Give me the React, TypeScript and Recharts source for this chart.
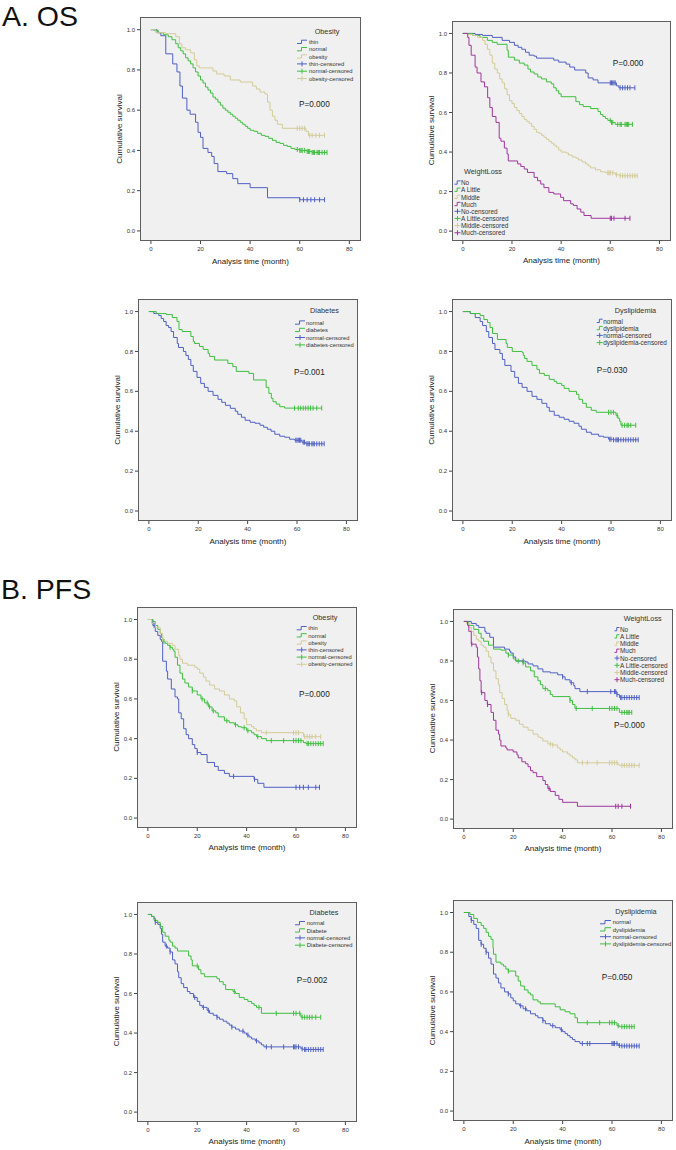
import React from 'react';
import { ComposedChart, Line, Scatter, XAxis, YAxis } from 'recharts';

type Step = [number, number];

const BLUE = '#4f60c4';
const GREEN = '#3fbf3f';
const TAN = '#d3cb98';
const PURPLE = '#9e369e';

const X_TICKS = [0, 20, 40, 60, 80];
const Y_TICKS = [0, 0.2, 0.4, 0.6, 0.8, 1.0];
const X_DOMAIN: [number, number] = [-4.4, 84.7];
const Y_DOMAIN: [number, number] = [-0.05, 1.063];

// ---------- A. OS : Obesity ----------
const osObThin: Step[] = [[0,1],[2.5,0.985],[4,0.97],[6,0.88],[8.8,0.83],[10.5,0.79],[11.7,0.72],[12.7,0.66],[14.5,0.6],[15.8,0.58],[18,0.54],[19,0.49],[20,0.465],[21,0.41],[23,0.39],[24.5,0.37],[25.5,0.335],[27,0.295],[30.5,0.285],[33,0.26],[35,0.235],[40,0.215],[47,0.165],[60,0.155]];
const osObThinCens = [60,61.5,63,64.5,66,68,70];
const osObNormal: Step[] = [[0,1],[1.5,0.995],[3,0.985],[5,0.975],[7,0.965],[8.5,0.95],[10,0.93],[11,0.91],[12,0.895],[13,0.88],[14,0.86],[15,0.845],[16,0.83],[17,0.81],[18,0.79],[19,0.77],[20,0.75],[21,0.735],[22,0.715],[23,0.7],[24,0.685],[25,0.665],[26,0.655],[27,0.64],[28,0.625],[29,0.61],[30,0.6],[31,0.59],[32,0.58],[33,0.57],[34,0.56],[35,0.55],[36,0.54],[37,0.53],[38,0.52],[39,0.51],[40,0.5],[41.5,0.495],[43,0.485],[44.5,0.475],[46,0.47],[47.5,0.46],[49,0.45],[50.5,0.44],[52,0.435],[53.5,0.425],[55,0.42],[56.5,0.41],[58,0.405],[60,0.4],[63,0.395],[65,0.39]];
const osObNormalCens = [59,60,60.5,61,62,63,63.5,64,65,65.5,66,67,67.5,68,69,70,71];
const osObObese: Step[] = [[0,1],[2,0.985],[6,0.98],[10,0.965],[11.5,0.93],[12.5,0.91],[14,0.9],[16,0.885],[17.5,0.85],[18.5,0.82],[19.5,0.81],[25,0.795],[26.5,0.78],[29.5,0.77],[32,0.75],[36,0.74],[41,0.72],[42.5,0.705],[44,0.69],[46,0.68],[47,0.64],[48,0.6],[49,0.57],[50,0.55],[51,0.53],[53,0.51],[62.5,0.495],[63.5,0.475]];
const osObObeseCens = [59,60,61,62,64,65,66.5,68,70];

// ---------- A. OS : Weight loss ----------
const osWlNo: Step[] = [[0,1],[5,0.995],[8,0.99],[12,0.98],[16,0.965],[19,0.955],[21,0.94],[22.5,0.93],[24,0.92],[25.5,0.905],[27,0.89],[29,0.885],[30,0.875],[37,0.865],[39,0.855],[42,0.845],[43.5,0.83],[45.5,0.815],[50,0.8],[51,0.775],[53,0.765],[55,0.75],[62.5,0.735],[63.5,0.725]];
const osWlNoCens = [60,60.5,61,61.5,62,64,65,66,67,68,70];
const osWlLittle: Step[] = [[0,1],[4,0.99],[7,0.98],[10,0.965],[12,0.955],[14,0.945],[18,0.915],[18.5,0.88],[21,0.865],[23,0.85],[25,0.84],[26.5,0.82],[27.5,0.805],[29,0.795],[30.5,0.78],[32,0.77],[34,0.755],[36,0.745],[37,0.725],[38,0.71],[39,0.695],[40,0.68],[46,0.655],[47.5,0.64],[49,0.63],[52,0.62],[55,0.605],[56,0.59],[57,0.58],[58,0.57],[59,0.56],[60.5,0.55],[62,0.54]];
const osWlLittleCens = [60,60.5,61,63,64,64.5,66,66.5,67,67.5,69];
const osWlMiddle: Step[] = [[0,1],[2,0.995],[4,0.99],[6,0.98],[8,0.965],[9,0.945],[10,0.92],[11,0.89],[12,0.85],[13,0.82],[14,0.8],[15,0.77],[16,0.75],[17,0.72],[18,0.69],[19,0.66],[20,0.645],[21,0.625],[22,0.61],[23,0.595],[24,0.58],[25,0.565],[26,0.555],[27,0.545],[28,0.53],[29,0.515],[30,0.5],[31,0.495],[32,0.485],[33,0.475],[34,0.465],[35,0.455],[36,0.445],[37,0.435],[38,0.425],[39,0.41],[40,0.4],[42,0.395],[43,0.385],[44.5,0.375],[46,0.37],[47,0.36],[48.5,0.35],[50,0.34],[51,0.33],[52,0.32],[54,0.31],[56,0.3],[58,0.295],[62,0.285],[64,0.28]];
const osWlMiddleCens = [59,59.5,60,61,62.5,64,65,66,67,68,69,70,71];
const osWlMuch: Step[] = [[0,1],[2,0.98],[2.5,0.94],[3.4,0.89],[5,0.83],[5.8,0.8],[7.4,0.755],[8.8,0.73],[10.1,0.675],[11,0.625],[12,0.58],[13.5,0.55],[14.8,0.47],[15.5,0.455],[16.9,0.42],[18,0.39],[18.5,0.355],[22.3,0.34],[23.6,0.327],[25,0.314],[26.3,0.297],[29,0.272],[30.4,0.255],[31.7,0.238],[33,0.22],[35,0.196],[37,0.188],[39.8,0.171],[41,0.154],[43.9,0.138],[45,0.13],[46.5,0.112],[48,0.096],[49.3,0.079],[52.2,0.065]];
const osWlMuchCens = [60,60.5,61.5,66,68];

// ---------- A. OS : Diabetes ----------
const osDmNormal: Step[] = [[0,1],[2,0.99],[4,0.98],[5,0.965],[6,0.95],[7,0.93],[8,0.92],[9,0.9],[10,0.87],[11.5,0.84],[12,0.82],[14,0.8],[15,0.78],[16,0.76],[17,0.73],[18,0.7],[19.5,0.67],[21,0.64],[22.5,0.62],[24,0.6],[26,0.58],[28,0.56],[29.5,0.545],[31,0.53],[33,0.515],[35,0.5],[36,0.485],[37.5,0.47],[39,0.455],[41,0.445],[43,0.44],[45,0.43],[46.5,0.42],[48,0.41],[49.5,0.4],[51,0.385],[53,0.375],[55,0.37],[57,0.36],[59,0.355],[62,0.345],[63.5,0.337]];
const osDmNormalCens = [59.5,60,60.5,61,61.5,62.5,63,64,64.5,65,66,66.5,67,68,69,70,71];
const osDmDiab: Step[] = [[0,1],[3,0.99],[7,0.985],[9.5,0.97],[11.4,0.95],[12.2,0.91],[13.5,0.9],[17,0.875],[18,0.85],[18.5,0.84],[20.5,0.825],[22,0.81],[24,0.79],[24.6,0.775],[26.6,0.757],[32,0.74],[34,0.724],[35.4,0.7],[40.5,0.69],[42.4,0.657],[47.5,0.62],[48.6,0.59],[49.6,0.565],[50.3,0.548],[51.6,0.536],[53,0.523],[55,0.516]];
const osDmDiabCens = [59,60.5,61.5,62.5,63.5,64.5,65.5,66.5,68,70];

// ---------- A. OS : Dyslipidemia ----------
const osDlNormal: Step[] = [[0,1],[3,0.99],[5,0.97],[7,0.95],[8,0.93],[9.5,0.9],[10.5,0.87],[12,0.84],[13,0.81],[15,0.79],[16,0.76],[17,0.73],[19.5,0.7],[21,0.67],[22.5,0.64],[24,0.62],[26,0.6],[28,0.575],[30,0.56],[32,0.54],[34,0.52],[35,0.5],[37,0.48],[39,0.47],[41,0.46],[43,0.45],[45,0.44],[47,0.425],[48,0.41],[50,0.395],[52,0.385],[55,0.375],[57,0.37],[59,0.36],[61,0.357]];
const osDlNormalCens = [59.5,60,61,62,62.5,63,64,65,66,67,68,69,70,71];
const osDlDys: Step[] = [[0,1],[3,0.99],[7,0.98],[8.5,0.96],[10,0.945],[11,0.92],[12,0.89],[14,0.86],[17.5,0.84],[18,0.82],[20,0.8],[24,0.795],[24.5,0.78],[25,0.765],[26,0.75],[28,0.73],[30,0.71],[31,0.69],[33,0.68],[35,0.66],[37,0.65],[38,0.64],[40,0.63],[41,0.615],[43,0.6],[46,0.585],[47,0.56],[48.5,0.54],[50,0.52],[52,0.505],[54,0.495],[62,0.48],[62.8,0.465],[63.5,0.45],[64,0.43]];
const osDlDysCens = [59,60,61,62.5,64.5,65.5,66.5,67,68,70];

// ---------- B. PFS : Obesity ----------
const pfsObThin: Step[] = [[0,1],[2,0.97],[3,0.94],[4,0.92],[5,0.9],[5.5,0.89],[6,0.79],[7.5,0.74],[8,0.7],[9.5,0.65],[11,0.61],[12,0.6],[12.5,0.53],[13.5,0.5],[14.5,0.45],[15.5,0.42],[16.5,0.4],[18,0.37],[19,0.35],[20,0.33],[21.5,0.32],[24,0.28],[27,0.26],[28.5,0.24],[31,0.225],[33,0.21],[43,0.195],[44.5,0.175],[47,0.155]];
const pfsObThinCens = [2.5,20,34.7,43.2,60,61.5,63,65,68,69.5];
const pfsObNormal: Step[] = [[0,1],[2,0.99],[3,0.97],[4,0.95],[5,0.93],[5.5,0.91],[6,0.89],[7,0.88],[8,0.87],[9,0.86],[10,0.85],[10.5,0.84],[11,0.81],[12,0.77],[13,0.73],[14,0.7],[15,0.68],[16.5,0.66],[18,0.64],[20,0.62],[21.5,0.6],[23,0.58],[24.5,0.56],[26,0.54],[27.5,0.53],[28.5,0.51],[31,0.49],[33,0.48],[35,0.47],[36.5,0.46],[38,0.455],[40,0.44],[42,0.43],[43,0.42],[44,0.41],[46,0.4],[48,0.39],[63,0.38],[64,0.375]];
const pfsObNormalCens = [6.5,9,18,22,24,25,26.5,32,35.5,39,40.5,44.5,50,55,59,60,61,62,64.5,65,66,67,68,69,70,71];
const pfsObObese: Step[] = [[0,1],[1.5,0.98],[3,0.96],[5,0.93],[6,0.89],[8,0.88],[10,0.87],[11,0.85],[12.5,0.82],[13,0.8],[14,0.78],[16,0.77],[19,0.76],[20,0.75],[21,0.73],[22.5,0.71],[23.5,0.69],[25,0.67],[27,0.65],[29,0.64],[31,0.62],[33,0.6],[35,0.59],[36,0.56],[37.5,0.53],[39,0.5],[40,0.47],[42,0.46],[43,0.45],[44,0.44],[46,0.43],[63,0.41]];
const pfsObObeseCens = [48,59,60,61,63.5,64.5,65.5,66.5,68,70];

// ---------- B. PFS : Weight loss ----------
const pfsWlNo: Step[] = [[0,1],[3,0.99],[5,0.98],[6,0.97],[8.5,0.95],[9,0.94],[10.5,0.92],[12,0.87],[16.5,0.86],[18.5,0.85],[19,0.84],[20,0.82],[21,0.8],[25,0.795],[26,0.785],[28,0.775],[30,0.76],[32,0.745],[35,0.74],[38,0.73],[40,0.72],[41,0.705],[43,0.69],[44.5,0.675],[45,0.66],[47,0.645],[62,0.63],[63,0.615]];
const pfsWlNoCens = [24,40,43.5,50,59.5,61,61.5,62,63.5,64,65,66,67,68,69,70,71];
const pfsWlLittle: Step[] = [[0,1],[2,0.98],[4,0.96],[6,0.94],[7,0.915],[8,0.9],[10,0.88],[12,0.86],[15,0.855],[17,0.84],[18,0.83],[20,0.81],[21,0.8],[24,0.79],[25,0.77],[27,0.75],[28.5,0.72],[30,0.7],[31,0.68],[32,0.66],[34,0.65],[35,0.63],[36,0.62],[43,0.6],[44,0.58],[45,0.56],[63,0.54]];
const pfsWlLittleCens = [18,22,24,33,43,45.5,52,59,60,61,62,64,65,66,66.5,67,68];
const pfsWlMiddle: Step[] = [[0,1],[1,0.99],[2,0.97],[3,0.95],[4,0.93],[5,0.91],[6,0.9],[7,0.88],[8,0.87],[9,0.85],[10,0.82],[11,0.79],[12,0.75],[13,0.71],[14,0.68],[14.5,0.64],[15.5,0.61],[16.5,0.58],[17.5,0.55],[18,0.53],[19,0.51],[21,0.5],[22.5,0.48],[24,0.465],[26,0.45],[28,0.43],[30,0.415],[31,0.41],[32,0.395],[34,0.38],[36,0.375],[38,0.36],[39,0.35],[40,0.34],[42,0.33],[43,0.32],[44,0.31],[45,0.3],[46,0.285],[62.5,0.275],[63,0.272]];
const pfsWlMiddleCens = [18,35,36,48,50,54,59,60,61,62,64,65,66,67,68,69,71];
const pfsWlMuch: Step[] = [[0,1],[1.5,0.98],[2,0.95],[3,0.885],[5,0.87],[5.5,0.82],[6,0.76],[6.5,0.7],[7,0.64],[8.5,0.6],[9.5,0.58],[11,0.54],[12,0.5],[13,0.45],[14,0.43],[14.5,0.4],[15,0.37],[17,0.36],[17.5,0.35],[20,0.34],[21.5,0.325],[22,0.31],[23.5,0.29],[25,0.28],[26,0.265],[27,0.245],[28,0.235],[29.5,0.215],[32,0.195],[33,0.175],[34,0.155],[35,0.14],[37,0.12],[38.5,0.1],[40,0.085],[46,0.065]];
const pfsWlMuchCens = [3.2,7.2,9.6,34.5,61.5,62.5,64,67.5];

// ---------- B. PFS : Diabetes ----------
const pfsDmNormal: Step[] = [[0,1],[1.5,0.99],[2.5,0.98],[3,0.96],[4,0.95],[5,0.93],[5.5,0.9],[6,0.86],[7,0.84],[8,0.83],[9,0.81],[10,0.77],[11,0.75],[12,0.71],[12.5,0.68],[13.5,0.65],[14.5,0.63],[16,0.61],[17,0.6],[18.5,0.58],[20,0.56],[21,0.54],[22,0.53],[24,0.515],[25,0.5],[26.5,0.49],[28,0.48],[29,0.47],[30.5,0.46],[32,0.45],[33,0.44],[34,0.43],[35.5,0.42],[37,0.41],[39,0.4],[40,0.39],[41,0.38],[42,0.37],[43.5,0.36],[45,0.35],[46,0.34],[47,0.33],[62,0.32],[63,0.317]];
const pfsDmNormalCens = [3,7.5,9,19,22.5,24.5,28,34,38.5,40.5,44,48,50,55,59,59.5,60,61,62.5,63.5,64,65,66,67,68,69,70,71];
const pfsDmDiab: Step[] = [[0,1],[1.5,0.99],[2.5,0.97],[4,0.96],[5,0.94],[6,0.91],[7,0.89],[8.5,0.87],[9,0.86],[10,0.84],[11,0.83],[12,0.815],[16.5,0.79],[17.5,0.77],[18,0.74],[20.5,0.72],[21.5,0.7],[23,0.685],[28,0.675],[29,0.66],[30.5,0.645],[31.5,0.62],[34.5,0.61],[35.5,0.6],[37,0.58],[39,0.57],[40.5,0.56],[42,0.55],[43,0.54],[44,0.53],[46,0.5],[62,0.48]];
const pfsDmDiabCens = [20,35,45,52,59,60,61.5,62.5,63.5,64.5,65.5,66.5,68,70];

// ---------- B. PFS : Dyslipidemia ----------
const pfsDlNormal: Step[] = [[0,1],[2,0.98],[3,0.96],[4,0.94],[5,0.92],[6,0.86],[7,0.84],[8,0.82],[9,0.8],[10,0.77],[11,0.74],[12,0.69],[13,0.67],[14,0.645],[15,0.62],[16.5,0.6],[18,0.59],[19,0.57],[20,0.555],[21,0.54],[22.5,0.53],[24,0.515],[25.5,0.505],[27,0.49],[29,0.48],[30,0.47],[32,0.455],[33,0.44],[35,0.43],[37,0.42],[39,0.41],[40,0.4],[41,0.39],[42,0.38],[43,0.37],[44,0.36],[45,0.35],[47,0.34],[62.5,0.33],[63.5,0.328]];
const pfsDlNormalCens = [3,7,9,18,23,25,32,36,39.5,48,50,51,60,60.5,61,62,63,64,65,66,67,68,69,70,71];
const pfsDlDys: Step[] = [[0,1],[2.5,0.99],[4,0.97],[5.5,0.95],[7,0.935],[8,0.92],[9,0.9],[10,0.88],[11,0.865],[11.8,0.82],[12,0.79],[13,0.75],[15,0.74],[16,0.73],[17,0.715],[18,0.705],[21,0.68],[22,0.655],[23,0.63],[24.5,0.61],[26,0.595],[27,0.585],[28,0.56],[30,0.55],[31,0.54],[37,0.525],[39,0.51],[41,0.5],[43,0.49],[45,0.47],[46,0.445],[62,0.43],[63,0.425]];
const pfsDlDysCens = [18,50,55,59,60,61,62.5,64,65,66,67,68,69];

// ---------- labels ----------
const obesityNames = ['thin', 'normal', 'obesity'];
const weightNames = ['No', 'A Little', 'Middle', 'Much'];
const diabetesOsNames = ['normal', 'diabetes'];
const diabetesPfsNames = ['normal', 'Diabete'];
const dyslipNames = ['normal', 'dyslipidemia'];
const pValues = ['P=0.000', 'P=0.000', 'P=0.001', 'P=0.030', 'P=0.000', 'P=0.000', 'P=0.002', 'P=0.050'];

interface Series { name: string; color: string; steps: Step[]; cens: number[]; }
interface Frame { x: number; y: number; w: number; h: number; }
interface LegendCfg { title: string; titleCx: number; titleCy: number; iconX: number; iconW: number; textX: number; row0: number; step: number; font: number; }
interface PanelCfg { frame: Frame; series: Series[]; legend: LegendCfg; p: string; px: number; py: number; }

function mk(names: string[], colors: string[], steps: Step[][], cens: number[][]): Series[] {
  return names.map((n, i) => ({ name: n, color: colors[i], steps: steps[i], cens: cens[i] }));
}

function survAt(steps: Step[], t: number): number {
  let v = steps[0][1];
  for (const [st, sv] of steps) { if (st <= t) v = sv; }
  return v;
}

const panels: PanelCfg[] = [
  {
    frame: { x: 140, y: 17, w: 221, h: 224 },
    series: mk(obesityNames, [BLUE, GREEN, TAN], [osObThin, osObNormal, osObObese], [osObThinCens, osObNormalCens, osObObeseCens]),
    legend: { title: 'Obesity', titleCx: 327, titleCy: 31.5, iconX: 297, iconW: 10, textX: 309, row0: 42, step: 7.3, font: 5.8 },
    p: pValues[0], px: 299, py: 104.5,
  },
  {
    frame: { x: 452, y: 20.5, w: 219, h: 220 },
    series: mk(weightNames, [BLUE, GREEN, TAN, PURPLE], [osWlNo, osWlLittle, osWlMiddle, osWlMuch], [osWlNoCens, osWlLittleCens, osWlMiddleCens, osWlMuchCens]),
    legend: { title: 'WeightLoss', titleCx: 483, titleCy: 171.7, iconX: 454.5, iconW: 6, textX: 461, row0: 182.7, step: 7.15, font: 6.4 },
    p: pValues[1], px: 612.7, py: 63.3,
  },
  {
    frame: { x: 138, y: 299, w: 220, h: 222 },
    series: mk(diabetesOsNames, [BLUE, GREEN], [osDmNormal, osDmDiab], [osDmNormalCens, osDmDiabCens]),
    legend: { title: 'Diabetes', titleCx: 324.5, titleCy: 310.7, iconX: 295, iconW: 10, textX: 306, row0: 322.7, step: 7.4, font: 5.8 },
    p: pValues[2], px: 294, py: 372.7,
  },
  {
    frame: { x: 452, y: 299, w: 220, h: 222 },
    series: mk(dyslipNames, [BLUE, GREEN], [osDlNormal, osDlDys], [osDlNormalCens, osDlDysCens]),
    legend: { title: 'Dyslipidemia', titleCx: 635.5, titleCy: 310.7, iconX: 596.7, iconW: 6, textX: 603.3, row0: 321, step: 7.2, font: 6.4 },
    p: pValues[3], px: 596.7, py: 370.7,
  },
  {
    frame: { x: 137, y: 606.5, w: 220, h: 221 },
    series: mk(obesityNames, [BLUE, GREEN, TAN], [pfsObThin, pfsObNormal, pfsObObese], [pfsObThinCens, pfsObNormalCens, pfsObObeseCens]),
    legend: { title: 'Obesity', titleCx: 325, titleCy: 617.7, iconX: 296.7, iconW: 10, textX: 308.3, row0: 628.3, step: 7.2, font: 5.8 },
    p: pValues[4], px: 299, py: 694,
  },
  {
    frame: { x: 453, y: 608.5, w: 220, h: 220 },
    series: mk(weightNames, [BLUE, GREEN, TAN, PURPLE], [pfsWlNo, pfsWlLittle, pfsWlMiddle, pfsWlMuch], [pfsWlNoCens, pfsWlLittleCens, pfsWlMiddleCens, pfsWlMuchCens]),
    legend: { title: 'WeightLoss', titleCx: 642.7, titleCy: 618.3, iconX: 614.5, iconW: 5, textX: 620, row0: 629.3, step: 7.2, font: 6.4 },
    p: pValues[5], px: 614, py: 725.7,
  },
  {
    frame: { x: 137, y: 901.5, w: 220, h: 220 },
    series: mk(diabetesPfsNames, [BLUE, GREEN], [pfsDmNormal, pfsDmDiab], [pfsDmNormalCens, pfsDmDiabCens]),
    legend: { title: 'Diabetes', titleCx: 324, titleCy: 912.3, iconX: 295, iconW: 10, textX: 306.7, row0: 923.3, step: 7.3, font: 5.8 },
    p: pValues[6], px: 296.7, py: 980.7,
  },
  {
    frame: { x: 453, y: 900, w: 220, h: 221 },
    series: mk(dyslipNames, [BLUE, GREEN], [pfsDlNormal, pfsDlDys], [pfsDlNormalCens, pfsDlDysCens]),
    legend: { title: 'Dyslipidemia', titleCx: 636, titleCy: 911.7, iconX: 600, iconW: 11, textX: 612.7, row0: 922.3, step: 7.2, font: 5.9 },
    p: pValues[7], px: 601.7, py: 977.3,
  },
];

const FONT = '"Liberation Sans", Arial, sans-serif';

function lineData(s: Series) {
  const pts = s.steps.map(([t, v]) => ({ t, s: v }));
  const last = s.steps[s.steps.length - 1];
  const end = Math.max(last[0], ...s.cens);
  pts.push({ t: end, s: last[1] });
  return pts;
}

function censData(s: Series) {
  return s.cens.map((t) => ({ t, s: survAt(s.steps, t) }));
}

function censorShape(color: string) {
  return (p: any) => (
    <line x1={p.cx} x2={p.cx} y1={p.cy - 2.5} y2={p.cy + 2.5} stroke={color} strokeWidth={1} />
  );
}

function Panel({ cfg }: { cfg: PanelCfg }) {
  const f = cfg.frame;
  return (
    <>
      <div
        style={{
          position: 'absolute', left: f.x, top: f.y, width: f.w, height: f.h,
          boxSizing: 'border-box', background: '#f0f0f0', border: '1px solid #5e5e5e',
        }}
      />
      <div style={{ position: 'absolute', left: f.x - 40, top: f.y }}>
        <ComposedChart width={f.w + 40} height={f.h + 30} margin={{ top: 0, right: 0, bottom: 0, left: 0 }}>
          <XAxis
            type="number" dataKey="t" domain={X_DOMAIN} ticks={X_TICKS} allowDataOverflow interval={0}
            height={30} axisLine={false} tickSize={3} tickMargin={3}
            tickLine={{ stroke: '#444' }} tick={{ fontSize: 6, fill: '#333' }}
          />
          <YAxis
            type="number" dataKey="s" domain={Y_DOMAIN} ticks={Y_TICKS} allowDataOverflow interval={0}
            width={40} axisLine={false} tickSize={3} tickMargin={2}
            tickLine={{ stroke: '#444' }} tick={{ fontSize: 6, fill: '#333' }}
            tickFormatter={(v: number) => v.toFixed(1)}
          />
          {cfg.series.map((s) => (
            <Line
              key={'l' + s.name} data={lineData(s)} dataKey="s" type="stepAfter" stroke={s.color}
              strokeWidth={1} dot={false} activeDot={false} isAnimationActive={false}
            />
          ))}
          {cfg.series.map((s) => (
            <Scatter
              key={'c' + s.name} data={censData(s)} dataKey="s" shape={censorShape(s.color)}
              isAnimationActive={false}
            />
          ))}
        </ComposedChart>
      </div>
    </>
  );
}

function PanelText({ cfg }: { cfg: PanelCfg }) {
  const f = cfg.frame;
  const L = cfg.legend;
  const rows: { label: string; color: string; cens: boolean }[] = [
    ...cfg.series.map((s) => ({ label: s.name, color: s.color, cens: false })),
    ...cfg.series.map((s) => ({ label: s.name + '-censored', color: s.color, cens: true })),
  ];
  return (
    <g>
      <text x={f.x + f.w / 2} y={f.y + f.h + 20} textAnchor="middle" dominantBaseline="central" fontSize={8} fill="#222">
        Analysis time (month)
      </text>
      <text
        x={f.x - 21} y={f.y + f.h / 2} textAnchor="middle" dominantBaseline="central" fontSize={8} fill="#222"
        transform={`rotate(-90 ${f.x - 21} ${f.y + f.h / 2})`}
      >
        Cumulative survival
      </text>
      <text x={cfg.px} y={cfg.py} dominantBaseline="central" fontSize={8.2} fill="#222">{cfg.p}</text>
      <text x={L.titleCx} y={L.titleCy} textAnchor="middle" dominantBaseline="central" fontSize={7.3} fill="#333">
        {L.title}
      </text>
      {rows.map((r, i) => {
        const cy = L.row0 + i * L.step;
        const x0 = L.iconX;
        const w = L.iconW;
        return (
          <g key={i}>
            {r.cens ? (
              <path d={`M${x0} ${cy} H${x0 + w} M${x0 + w / 2} ${cy - 2.5} V${cy + 2.5}`} stroke={r.color} strokeWidth={1} fill="none" />
            ) : (
              <path d={`M${x0} ${cy + 1.5} H${x0 + w * 0.45} V${cy - 1.8} H${x0 + w}`} stroke={r.color} strokeWidth={1} fill="none" />
            )}
            <text x={L.textX} y={cy} dominantBaseline="central" fontSize={L.font} fill="#333">{r.label}</text>
          </g>
        );
      })}
    </g>
  );
}

export default function App() {
  return (
    <div style={{ position: 'absolute', left: 0, top: 0, width: 676, height: 1150, background: '#fff', fontFamily: FONT, overflow: 'hidden' }}>
      {panels.map((p, i) => <Panel key={i} cfg={p} />)}
      <svg width={676} height={1150} style={{ position: 'absolute', left: 0, top: 0, pointerEvents: 'none', fontFamily: FONT }}>
        <text x={2} y={26} fontSize={28.5} fill="#111">A. OS</text>
        <text x={1} y={599} fontSize={28.5} fill="#111">B. PFS</text>
        {panels.map((p, i) => <PanelText key={i} cfg={p} />)}
      </svg>
    </div>
  );
}
